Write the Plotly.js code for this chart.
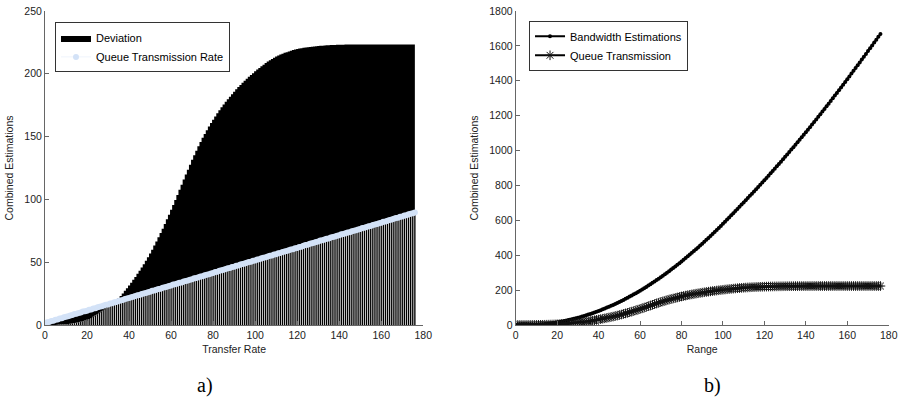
<!DOCTYPE html>
<html>
<head>
<meta charset="utf-8">
<script src="https://cdn.plot.ly/plotly-3.0.1.min.js"></script>
<style>html,body{margin:0;padding:0;background:#fff;}#chart{width:900px;height:400px;}</style>
</head>
<body>
<div id="chart"></div>
<script>
// x positions (Transfer Rate / Range)
const rate = [0,1,2,3,4,5,6,7,8,9,10,11,12,13,14,15,16,17,18,19,20,21,22,23,24,25,26,27,28,29,30,31,32,33,34,35,36,37,38,39,40,41,42,43,44,45,46,47,48,49,50,51,52,53,54,55,56,57,58,59,60,61,62,63,64,65,66,67,68,69,70,71,72,73,74,75,76,77,78,79,80,81,82,83,84,85,86,87,88,89,90,91,92,93,94,95,96,97,98,99,100,101,102,103,104,105,106,107,108,109,110,111,112,113,114,115,116,117,118,119,120,121,122,123,124,125,126,127,128,129,130,131,132,133,134,135,136,137,138,139,140,141,142,143,144,145,146,147,148,149,150,151,152,153,154,155,156,157,158,159,160,161,162,163,164,165,166,167,168,169,170,171,172,173,174,175,176];

// Deviation (left, black) / Queue Transmission (right, asterisks)
const deviation = [0,0,0,0,0,0,0.2,0.3,0.4,0.5,0.6,0.8,1.0,1.2,1.5,1.8,2.2,2.6,3.0,3.5,4.1,4.8,5.6,6.5,7.5,8.6,9.8,11.0,12.2,13.4,14.6,15.8,17.0,18.3,19.7,21.2,23.1,25.1,27.2,29.3,31.5,33.7,36.0,38.3,40.8,43.2,45.8,48.4,51.2,54.0,57.0,60.0,63.2,66.4,69.8,73.2,76.7,80.4,84.1,87.8,91.7,95.6,99.6,103.6,107.6,111.7,115.8,119.8,123.7,127.6,131.5,135.2,138.8,142.3,145.7,149.0,152.1,155.1,158.0,160.8,163.5,166.1,168.5,170.9,173.3,175.5,177.7,179.8,181.8,183.8,185.7,187.6,189.4,191.1,192.8,194.5,196.0,197.6,199.1,200.5,202.0,203.4,204.7,206.0,207.3,208.5,209.7,210.8,211.8,212.8,213.7,214.6,215.3,216.0,216.7,217.2,217.8,218.4,218.9,219.3,219.7,220.1,220.4,220.7,221.0,221.2,221.4,221.6,221.8,222.0,222.2,222.3,222.4,222.6,222.7,222.8,222.9,223.0,223.0,223.1,223.1,223.2,223.2,223.3,223.3,223.4,223.4,223.4,223.4,223.4,223.4,223.4,223.4,223.4,223.4,223.4,223.4,223.4,223.4,223.4,223.4,223.4,223.4,223.4,223.4,223.4,223.4,223.4,223.4,223.4,223.4,223.4,223.4,223.4,223.4,223.4,223.4];

// Queue Transmission Rate (left, light blue markers)
const queueRate = [1.2,2.1,2.4,3.2,3.4,4.1,4.3,5.2,5.4,6.1,6.6,6.9,7.6,7.9,8.7,8.9,9.6,9.9,10.7,11.0,11.4,12.1,12.4,13.2,13.4,14.1,14.6,14.9,15.6,16.1,16.4,17.1,17.4,18.2,18.4,19.1,19.6,19.9,20.7,21.0,21.4,22.1,22.4,23.1,23.6,23.9,24.6,25.0,25.4,26.1,26.4,27.2,27.4,28.1,28.6,28.9,29.6,30.1,30.4,31.1,31.4,32.2,32.4,33.1,33.6,33.9,34.6,35.1,35.4,36.1,36.4,37.2,37.4,38.1,38.6,38.9,39.6,40.1,40.4,41.1,41.4,42.2,42.4,43.1,43.6,43.9,44.6,45.1,45.4,46.1,46.4,47.2,47.4,48.1,48.6,48.9,49.6,50.1,50.4,51.1,51.4,52.2,52.4,53.1,53.6,53.9,54.6,55.1,55.4,56.1,56.4,57.2,57.4,58.1,58.6,58.9,59.6,60.1,60.4,61.1,61.4,62.2,62.4,63.1,63.6,63.9,64.6,65.1,65.4,66.1,66.4,67.2,67.4,68.1,68.6,68.9,69.6,70.1,70.4,71.1,71.4,72.2,72.4,73.1,73.6,73.9,74.6,75.1,75.4,76.1,76.4,77.2,77.4,78.1,78.6,78.9,79.6,80.1,80.4,81.1,81.4,82.2,82.4,83.1,83.6,83.9,84.6,85.1,85.4,86.1,86.4,87.2,87.4,88.1,88.6,88.9,89.6];

// Bandwidth Estimations (right)
const bandwidth = [0,0.0,0.1,0.2,0.4,0.7,1.0,1.3,1.7,2.1,2.6,3.2,3.9,4.8,5.8,7.0,8.3,9.8,11.4,13.2,15.1,17.2,19.4,21.7,24.1,26.7,29.4,32.3,35.2,38.3,41.6,45.0,48.4,52.0,55.8,59.6,63.6,67.6,71.8,76.2,80.6,85.2,89.9,94.7,99.7,104.7,110.0,115.3,120.8,126.4,132.1,138.0,144.0,150.1,156.4,162.7,169.3,175.9,182.7,189.6,196.6,203.8,211.1,218.5,226.1,233.7,241.6,249.5,257.6,265.8,274.1,282.6,291.1,299.8,308.7,317.6,326.7,335.8,345.1,354.6,364.1,373.8,383.5,393.4,403.5,413.6,423.9,434.2,444.7,455.4,466.1,477.0,488.0,499.1,510.3,521.6,533.1,544.7,556.4,568.2,580.1,592.1,604.2,616.3,628.5,640.7,653.0,665.3,677.7,690.1,702.6,715.1,727.7,740.3,753.0,765.7,778.5,791.3,804.2,817.1,830.1,843.1,856.2,869.4,882.7,896.0,909.4,922.9,936.5,950.1,963.8,977.6,991.5,1005.4,1019.4,1033.5,1047.7,1061.9,1076.2,1090.6,1105.1,1119.6,1134.2,1148.9,1163.7,1178.5,1193.4,1208.3,1223.4,1238.5,1253.6,1268.9,1284.2,1299.6,1315.0,1330.5,1346.1,1361.8,1377.5,1393.3,1409.2,1425.1,1441.1,1457.1,1473.1,1489.2,1505.3,1521.4,1537.6,1553.8,1570.1,1586.4,1602.7,1619.1,1635.5,1651.9,1668.4];

const xTicks = [0,20,40,60,80,100,120,140,160,180];
const xTickText = ['0','20','40','60','80','100','120','140','160','180'];

// derived for drawing
const lower = deviation.map((d, i) => Math.min(d, queueRate[i]));
const upper = deviation.map((d, i) => Math.max(d, queueRate[i]));

const FONT = 'Liberation Sans, Arial, Helvetica, sans-serif';

const traces = [
  {type:'bar', x: rate, y: lower, xaxis:'x', yaxis:'y',
   marker:{color:'#000', opacity:0.999, line:{width:0}}, showlegend:false, hoverinfo:'skip'},
  {type:'scatter', mode:'lines', x: rate, y: lower, xaxis:'x', yaxis:'y',
   line:{width:0, shape:'hvh', color:'rgba(0,0,0,0)'}, showlegend:false, hoverinfo:'skip'},
  {type:'scatter', mode:'lines', name:'Deviation', x: rate, y: upper, xaxis:'x', yaxis:'y',
   line:{width:0, shape:'hvh', color:'#000'}, fill:'tonexty', fillcolor:'#000', legend:'legend'},
  {type:'scatter', mode:'lines+markers', name:'Queue Transmission Rate', x: rate, y: queueRate,
   xaxis:'x', yaxis:'y', line:{color:'#e4ecf8', width:0.6},
   marker:{symbol:'circle', size:6, color:'#d3e2f7', line:{width:0}}, legend:'legend'},
  {type:'scatter', mode:'lines+markers', name:'Bandwidth Estimations', x: rate, y: bandwidth,
   xaxis:'x2', yaxis:'y2', line:{color:'#000', width:2},
   marker:{symbol:'circle', size:4, color:'#000'}, legend:'legend2'},
  {type:'scatter', mode:'lines+markers', name:'Queue Transmission', x: rate, y: deviation,
   xaxis:'x2', yaxis:'y2', line:{color:'#000', width:2},
   marker:{symbol:'asterisk-open', size:8, color:'#111', line:{width:1, color:'#111'}}, legend:'legend2'}
];

const axisCommon = {
  showline:true, linecolor:'#666', linewidth:1, mirror:false,
  ticks:'inside', ticklen:4, tickcolor:'#666', tickwidth:1,
  showgrid:false, zeroline:false, ticklabeloverflow:'allow',
  tickfont:{family:FONT, size:10.5, color:'#222'},
  fixedrange:true
};

const legendCommon = {xanchor:'left', yanchor:'top', bgcolor:'#fff', bordercolor:'#333', borderwidth:1,
  font:{family:FONT, size:11, color:'#000'}, itemwidth:30, tracegroupgap:0, traceorder:'normal'};

const layout = {
  width:900, height:400,
  margin:{l:0, r:0, t:0, b:0},
  paper_bgcolor:'#fff', plot_bgcolor:'#fff',
  showlegend:true,
  barmode:'overlay', bargap:0.35,
  xaxis: Object.assign({}, axisCommon, {domain:[0.05, 0.4703], range:[0,180], tickmode:'array', tickvals:xTicks, ticktext:xTickText,
    title:{text:'Transfer Rate', font:{family:FONT, size:10.5, color:'#222'}, standoff:6}}),
  yaxis: Object.assign({}, axisCommon, {domain:[0.1875, 0.9725], range:[0,250], dtick:50,
    title:{text:'Combined Estimations', font:{family:FONT, size:10.5, color:'#222'}, standoff:8}}),
  xaxis2: Object.assign({}, axisCommon, {domain:[0.573, 0.9875], range:[0,180], tickmode:'array', tickvals:xTicks, ticktext:xTickText, anchor:'y2',
    title:{text:'Range', font:{family:FONT, size:10.5, color:'#222'}, standoff:6}}),
  yaxis2: Object.assign({}, axisCommon, {domain:[0.1875, 0.9725], range:[0,1800], dtick:200, anchor:'x2',
    title:{text:'Combined Estimations', font:{family:FONT, size:10.5, color:'#222'}, standoff:8}}),
  legend: Object.assign({}, legendCommon, {x:0.0611, y:0.944}),
  legend2: Object.assign({}, legendCommon, {x:0.5878, y:0.948}),
  annotations: [
    {text:'a)', xref:'paper', yref:'paper', x:205/900, y:(400-385)/400, xanchor:'center', yanchor:'middle',
     showarrow:false, font:{family:'Liberation Serif, DejaVu Serif, serif', size:20, color:'#000'}},
    {text:'b)', xref:'paper', yref:'paper', x:712/900, y:(400-385)/400, xanchor:'center', yanchor:'middle',
     showarrow:false, font:{family:'Liberation Serif, DejaVu Serif, serif', size:20, color:'#000'}}
  ]
};

Plotly.newPlot('chart', traces, layout, {staticPlot:true, displayModeBar:false});
</script>
</body>
</html>
